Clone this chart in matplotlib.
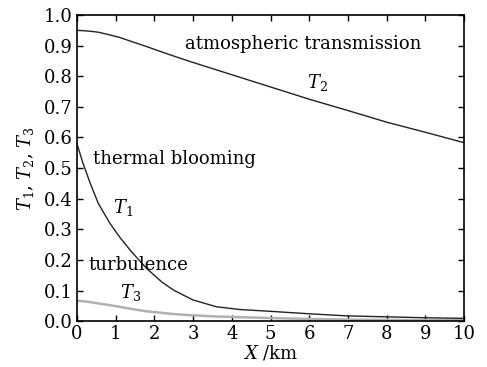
import numpy as np
import matplotlib
matplotlib.use("Agg")
import matplotlib.pyplot as plt

# values
x = [0, 0.15, 0.35, 0.55, 0.85, 1.1, 1.4, 1.8, 2.2, 2.5, 3, 3.6, 4.2,
     5, 6, 7, 8, 9, 10]
t1 = [0.58, 0.518, 0.448, 0.385, 0.32, 0.275, 0.228, 0.172, 0.127, 0.101,
      0.069, 0.047, 0.038, 0.032, 0.024, 0.017, 0.014, 0.011, 0.009]
t2 = [0.95, 0.949, 0.947, 0.944, 0.935, 0.927, 0.914, 0.897, 0.879, 0.866,
      0.845, 0.821, 0.797, 0.765, 0.725, 0.688, 0.65, 0.617, 0.583]
t3 = [0.067, 0.065, 0.062, 0.058, 0.052, 0.047, 0.04, 0.032, 0.027, 0.023,
      0.019, 0.015, 0.013, 0.01, 0.007, 0.005, 0.004, 0.003, 0.003]

xticks = list(range(0, 11))
yticks = [0.0, 0.1, 0.2, 0.3, 0.4, 0.5, 0.6, 0.7, 0.8, 0.9, 1.0]

plt.rcParams['font.family'] = 'DejaVu Serif'
plt.rcParams['mathtext.fontset'] = 'dejavuserif'

fig = plt.figure(figsize=(4.87, 3.67), dpi=100)
ax = fig.add_axes([0.158, 0.125, 0.795, 0.834])

ax.plot(x, t3, color='#b0b0b0', lw=1.8)
ax.plot(x, t1, color='#222222', lw=1.0)
ax.plot(x, t2, color='#222222', lw=1.0)

ax.set_xlim(0, 10)
ax.set_ylim(0, 1.0)
ax.set_xticks(xticks)
ax.set_yticks(yticks)
ax.set_yticklabels([f"{v:.1f}" for v in yticks])
ax.tick_params(direction='in', top=True, right=True, length=4, width=1,
               labelsize=13, pad=3)
for s in ax.spines.values():
    s.set_linewidth(1.2)

ax.set_xlabel(r"$X$ /km", fontsize=13, labelpad=0)
ax.set_ylabel(r"$T_1$, $T_2$, $T_3$", fontsize=13, labelpad=6)

ax.text(2.78, 0.905, "atmospheric transmission", fontsize=13, va='center')
ax.text(5.95, 0.78, r"$T_2$", fontsize=13, va='center')
ax.text(0.42, 0.53, "thermal blooming", fontsize=13, va='center')
ax.text(0.92, 0.37, r"$T_1$", fontsize=13, va='center')
ax.text(0.3, 0.185, "turbulence", fontsize=13, va='center')
ax.text(1.1, 0.095, r"$T_3$", fontsize=13, va='center')

fig.savefig("out.png", dpi=100)
